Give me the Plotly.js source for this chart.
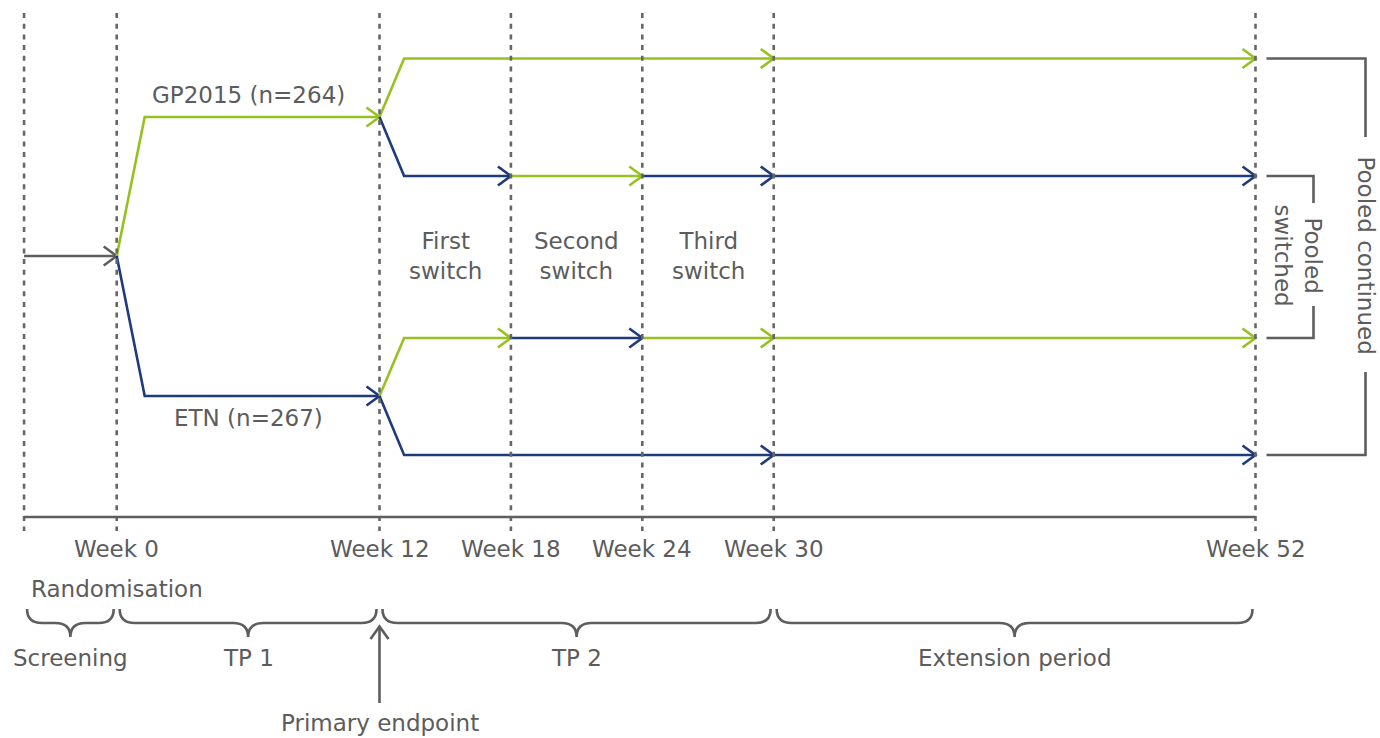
<!DOCTYPE html>
<html><head><meta charset="utf-8">
<script src="https://cdn.plot.ly/plotly-3.0.1.min.js"></script>
<style>html,body{margin:0;padding:0;background:#fff}#chart{width:1380px;height:738px}</style>
</head><body><div id="chart"></div>
<script>
// ---------------- data ----------------
const weekTicks = [0, 12, 18, 24, 30, 52];
const weekLabels = ['Week 0', 'Week 12', 'Week 18', 'Week 24', 'Week 30', 'Week 52'];
const screeningStartWeek = -4.23;
const armTreatments = ['GP2015', 'ETN'];
const armLabels = ['GP2015 (n=264)', 'ETN (n=267)'];
const switchLabels = ['First<br>switch', 'Second<br>switch', 'Third<br>switch'];
const tp2Boundaries = [12, 18, 24, 30, 52];
// treatment in intervals 12-18, 18-24, 24-30, 30-52
const seqGPContinued = ['GP2015', 'GP2015', 'GP2015', 'GP2015'];
const seqGPSwitched = ['ETN', 'GP2015', 'ETN', 'ETN'];
const seqETNSwitched = ['GP2015', 'ETN', 'GP2015', 'GP2015'];
const seqETNContinued = ['ETN', 'ETN', 'ETN', 'ETN'];
const periodNames = ['Screening', 'TP 1', 'TP 2', 'Extension period'];
const periodStarts = [-4.23, 0, 12, 30];
const periodEnds = [0, 12, 30, 52];
const randomisationLabel = 'Randomisation';
const primaryEndpointLabel = 'Primary endpoint';
const primaryEndpointWeek = 12;
const poolLabels = ['Pooled continued', 'Pooled<br>switched'];

// ---------------- layout / style constants ----------------
const W = 1380, H = 738;
const PX_PER_WEEK = 21.9, X0_PX = 116.7;
const px = p => p / PX_PER_WEEK;             // pixel length -> weeks
const LANE = {start: 256, armGP: 117, armETN: 396, gpCont: 58.5, gpSw: 176, etnSw: 338, etnCont: 455};
const COLOR = {GP2015: '#96C11F', ETN: '#1F3B7D'};
const GRAY = '#5e5e5e', TEXT = '#5c5c5c', DASH = '#666666';
const LW = 2.6, ARROW_LEN = 13, ARROW_HALF = 9.5, KINK0 = 28, KINK12 = 24.6;
const FONT = {family: 'DejaVu Sans', size: 23, color: TEXT};
const EXT_START = periodStarts[3], LAST = weekTicks[weekTicks.length - 1];

const traces = [];
function line(xs, ys, color, width) {
  traces.push({type: 'scatter', mode: 'lines', x: xs, y: ys,
    line: {color: color, width: width || LW}, hoverinfo: 'skip', showlegend: false});
}
function chevronRight(xw, y, color) {
  line([xw - px(ARROW_LEN), xw, xw - px(ARROW_LEN)], [y - ARROW_HALF, y, y + ARROW_HALF], color);
}

// screening arrow
line([screeningStartWeek, weekTicks[0]], [LANE.start, LANE.start], GRAY);
chevronRight(weekTicks[0], LANE.start, GRAY);

// randomised arms
const armY = [LANE.armGP, LANE.armETN];
armTreatments.forEach((t, i) => {
  line([0, px(KINK0), 12], [LANE.start, armY[i], armY[i]], COLOR[t]);
  chevronRight(12, armY[i], COLOR[t]);
});

// sub-groups after week 12
const subgroups = [
  {seq: seqGPContinued, from: LANE.armGP, y: LANE.gpCont},
  {seq: seqGPSwitched, from: LANE.armGP, y: LANE.gpSw},
  {seq: seqETNSwitched, from: LANE.armETN, y: LANE.etnSw},
  {seq: seqETNContinued, from: LANE.armETN, y: LANE.etnCont}
];
subgroups.forEach(g => {
  const segs = [];
  g.seq.forEach((t, i) => {
    const s = tp2Boundaries[i], e = tp2Boundaries[i + 1];
    const last = segs[segs.length - 1];
    if (last && last.t === t && e <= EXT_START) last.e = e; else segs.push({s: s, e: e, t: t});
  });
  segs.forEach((sg, k) => {
    const c = COLOR[sg.t];
    if (k === 0) line([sg.s, sg.s + px(KINK12), sg.e], [g.from, g.y, g.y], c);
    else line([sg.s, sg.e], [g.y, g.y], c);
    chevronRight(sg.e, g.y, c);
  });
});

// primary endpoint arrow
line([primaryEndpointWeek, primaryEndpointWeek], [703, 627], GRAY);
line([primaryEndpointWeek - px(9), primaryEndpointWeek, primaryEndpointWeek + px(9)], [639, 626.5, 639], GRAY);

// pooled brackets
const bx0 = LAST + px(11);
const bContX = LAST + px(110), bSwX = LAST + px(58);
line([bx0, bContX, bContX, null, bContX, bContX, bx0], [LANE.gpCont, LANE.gpCont, 137, null, 372, LANE.etnCont, LANE.etnCont], GRAY);
line([bx0, bSwX, bSwX, null, bSwX, bSwX, bx0], [LANE.gpSw, LANE.gpSw, 203, null, 306, LANE.etnSw, LANE.etnSw], GRAY);

// shapes: dashed week lines, axis line, braces
const shapes = [];
[screeningStartWeek].concat(weekTicks).forEach(w => shapes.push({
  type: 'line', xref: 'x', yref: 'y', x0: w, x1: w, y0: 13, y1: 531,
  line: {color: DASH, width: 2.6, dash: '5px,5.7px'}, layer: 'above'}));
shapes.push({type: 'line', xref: 'x', yref: 'y', x0: screeningStartWeek, x1: LAST, y0: 517, y1: 517,
  line: {color: GRAY, width: 2.6}});
function bracePath(xa, xb) {
  const xm = (xa + xb) / 2, r = px(15);
  const a = xa + px(3), b = xb - px(3);
  const yT = 609, yH = 623, yP = 637;
  return `M${a},${yT} Q${a},${yH} ${a + r},${yH} L${xm - r},${yH} Q${xm},${yH} ${xm},${yP} ` +
         `Q${xm},${yH} ${xm + r},${yH} L${b - r},${yH} Q${b},${yH} ${b},${yT}`;
}
periodNames.forEach((n, i) => shapes.push({type: 'path', xref: 'x', yref: 'y',
  path: bracePath(periodStarts[i], periodEnds[i]), line: {color: GRAY, width: 2.6}}));

// annotations
const ann = [];
function txt(x, y, text, extra) {
  ann.push(Object.assign({x: x, y: y, xref: 'x', yref: 'y', text: text, showarrow: false,
    xanchor: 'center', yanchor: 'middle', font: FONT}, extra || {}));
}
weekTicks.forEach((w, i) => txt(w, 549, weekLabels[i]));
txt(6, LANE.armGP - 22, armLabels[0]);
txt(6, LANE.armETN + 22, armLabels[1]);
switchLabels.forEach((s, i) => txt((tp2Boundaries[i] + tp2Boundaries[i + 1]) / 2, 256, s));
txt(0, 589, randomisationLabel);
periodNames.forEach((n, i) => txt((periodStarts[i] + periodEnds[i]) / 2, 658, n));
txt(primaryEndpointWeek, 723, primaryEndpointLabel);
txt(bContX, 255, poolLabels[0], {textangle: 90});
txt(LAST + px(42), 255, poolLabels[1], {textangle: 90});

const layout = {
  width: W, height: H, margin: {l: 0, r: 0, t: 0, b: 0},
  paper_bgcolor: '#fff', plot_bgcolor: '#fff',
  xaxis: {range: [-X0_PX / PX_PER_WEEK, (W - X0_PX) / PX_PER_WEEK], visible: false, fixedrange: true},
  yaxis: {range: [H, 0], visible: false, fixedrange: true},
  shapes: shapes, annotations: ann, showlegend: false
};
Plotly.newPlot('chart', traces, layout, {staticPlot: true, displayModeBar: false});
</script>
</body></html>
